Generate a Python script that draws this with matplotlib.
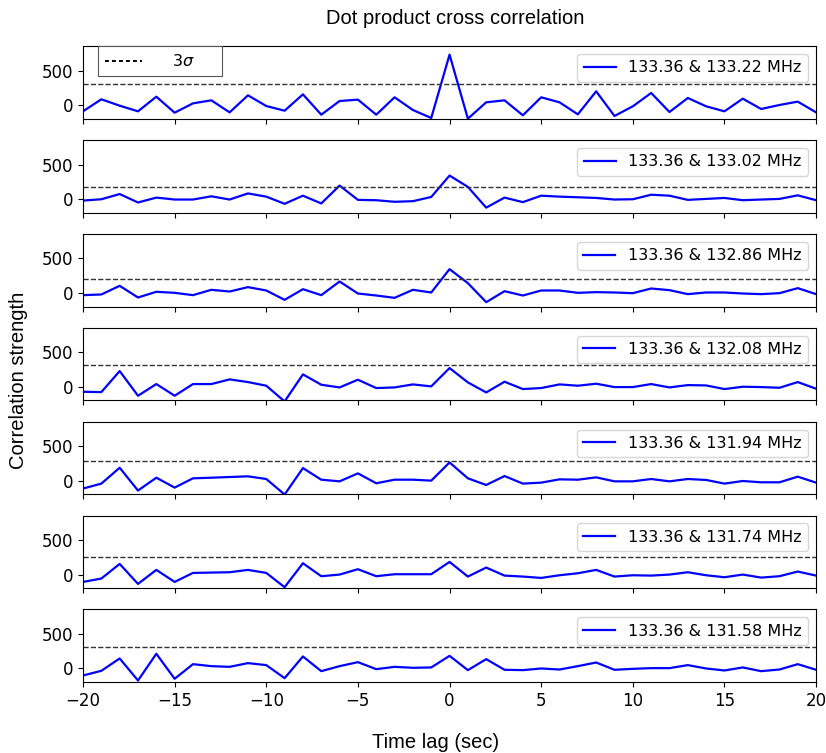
import numpy as np
import matplotlib.pyplot as plt

lags = np.arange(-20, 21)

pairs = ["133.36 & 133.22 MHz", "133.36 & 133.02 MHz", "133.36 & 132.86 MHz",
         "133.36 & 132.08 MHz", "133.36 & 131.94 MHz", "133.36 & 131.74 MHz",
         "133.36 & 131.58 MHz"]

corr_1 = [-92, 83, -10, -92, 121, -112, 24, 68, -107, 141, -15, -83, 155, -141, 58, 78, -141,
          112, -73, -189, 733, -199, 39, 68, -150, 112, 39, -136, 199, -160, -19, 175, -102,
          102, -19, -92, 92, -58, 0, 49, -107]
corr_2 = [-24, -5, 71, -52, 19, -9, -9, 38, -9, 80, 33, -71, 47, -66, 194, -14, -19,
          -42, -33, 28, 340, 175, -127, 19, -47, 47, 33, 24, 14, -9, -5, 61, 47,
          -14, 0, 14, -19, -9, 0, 52, -19]
corr_3 = [-34, -24, 102, -68, 15, 0, -34, 44, 19, 83, 34, -102, 53, -34, 165, -10, -39,
          -73, 44, 5, 345, 141, -136, 24, -39, 34, 34, 0, 10, 5, -5, 63, 39,
          -19, 5, 5, -10, -19, -5, 68, -19]
corr_4 = [-73, -78, 228, -131, 39, -131, 39, 39, 107, 68, 15, -214, 180, 29, -10, 102, -19,
          -10, 34, 5, 272, 63, -83, 73, -34, -19, 34, 15, 44, -5, -5, 39, -10,
          24, 19, -34, 0, -5, -15, 68, -29]
corr_5 = [-115, -43, 188, -144, 43, -101, 34, 43, 53, 63, 24, -202, 183, 14, -10, 106, -38,
          14, 14, 0, 265, 34, -63, 67, -43, -29, 19, 14, 48, -10, -10, 24, -10,
          24, 10, -43, -5, -24, -24, 58, -29]
corr_6 = [-107, -58, 155, -136, 68, -107, 24, 29, 34, 68, 24, -184, 165, -24, 0, 78, -24,
          5, 5, 5, 184, -29, 102, -15, -29, -49, -10, 19, 68, -29, -10, -15, 0,
          34, -10, -39, 0, -44, -24, 44, -15]
corr_7 = [-102, -34, 146, -175, 214, -150, 63, 34, 24, 78, 49, -141, 175, -39, 34, 92, -10,
          24, 10, 15, 184, -24, 136, -19, -24, 0, -15, 34, 87, -19, -5, 5, 5,
          49, 0, -29, 15, -39, -15, 63, -19]
series = [corr_1, corr_2, corr_3, corr_4, corr_5, corr_6, corr_7]

three_sigma = [306, 170, 199, 320, 293, 257, 306]

label_font = ['Liberation Sans', 'DejaVu Sans']

fig, axes = plt.subplots(7, 1, figsize=(8.26, 7.53), dpi=100, sharex=True, sharey=True)
fig.subplots_adjust(left=0.1005, right=0.988, top=0.939, bottom=0.094, hspace=0.29)

for i, ax in enumerate(axes):
    ax.plot(lags, series[i], color='blue', lw=1.6, label=pairs[i])
    ax.axhline(three_sigma[i], color='#333333', ls='--', lw=1.0)
    ax.legend(loc='upper right', fontsize=11.5, handlelength=2.0)
    ax.tick_params(labelsize=12)

axes[0].set_xlim(-20, 20)
axes[0].set_ylim(-200, 860)
axes[0].set_yticks([0, 500])
axes[-1].set_xticks([-20, -15, -10, -5, 0, 5, 10, 15, 20])

# separate 3 sigma key in the top panel
sig_handle, = axes[0].plot([], [], color='black', dashes=(2, 1.6), lw=1.4, label=r'$3\sigma$     ')
sig_leg = fig.legend(handles=[sig_handle], loc='upper left', bbox_to_anchor=(98 / 826, 1 - 46 / 753),
                     fontsize=11.5, fancybox=False, edgecolor='#555555', framealpha=1,
                     handlelength=2.3, handletextpad=1.9, borderpad=0.45, borderaxespad=0)
sig_leg.get_frame().set_linewidth(0.8)

fig.text(0.551, 0.976, 'Dot product cross correlation', ha='center', va='center',
         fontsize=14.5, family=label_font)
fig.text(0.527, 0.0146, 'Time lag (sec)', ha='center', va='center', fontsize=14.5, family=label_font)
fig.text(0.022, 0.495, 'Correlation strength', ha='center', va='center', rotation=90,
         fontsize=14.5, family=label_font)

plt.savefig('out.png', dpi=100)
